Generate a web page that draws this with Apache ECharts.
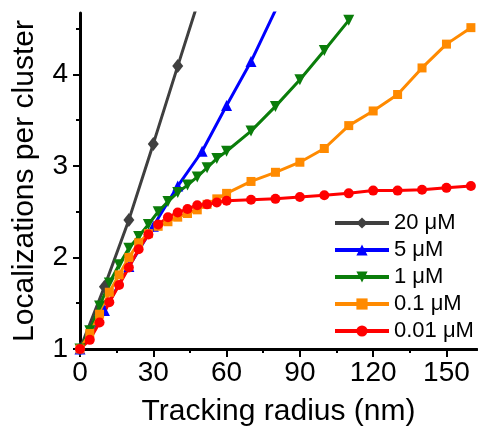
<!DOCTYPE html>
<html>
<head>
<meta charset="utf-8">
<script src="https://cdn.jsdelivr.net/npm/echarts@6/dist/echarts.min.js"></script>
<style>
    html, body { margin: 0; padding: 0; background: #fff; }
    #myChart { width: 478px; height: 432px; }
</style>
</head>
<body>
<div id="myChart"></div>
<script>
    // tracking radius (nm) used by each curve
    const radiusTen = [0, 10, 20, 30, 40, 50, 60, 70, 80];
    const radiusFine = [0, 4, 8, 12, 16, 20, 24, 28, 32, 36, 40, 44, 48, 52, 56, 60];
    const radiusCoarse = [70, 80, 90, 100, 110, 120, 130, 140, 150, 160];

    // localizations per cluster
    const loc20uM = [1, 1.68, 2.41, 3.24, 4.09, 4.93];
    const loc5uM = [1, 1.42, 1.9, 2.34, 2.78, 3.16, 3.66, 4.14, 4.70];
    const loc1uM = [1, 1.2, 1.47, 1.72, 1.92, 2.1, 2.23, 2.36, 2.5, 2.61, 2.71, 2.79, 2.88, 2.98, 3.08, 3.16,
        3.38, 3.65, 3.94, 4.26, 4.59];
    const loc01uM = [1, 1.17, 1.38, 1.62, 1.81, 2.0, 2.16, 2.26, 2.34, 2.39, 2.44, 2.48, 2.52, 2.58, 2.64, 2.70,
        2.83, 2.93, 3.04, 3.19, 3.44, 3.60, 3.78, 4.07, 4.33, 4.51];
    const loc001uM = [1.0, 1.10, 1.29, 1.51, 1.70, 1.89, 2.09, 2.25, 2.36, 2.44, 2.49, 2.53, 2.57, 2.58, 2.60, 2.62,
        2.63, 2.64, 2.66, 2.68, 2.70, 2.73, 2.73, 2.74, 2.76, 2.78];

    const names = ['20 μM', '5 μM', '1 μM', '0.1 μM', '0.01 μM'];
    const xMajor = [0, 30, 60, 90, 120, 150];
    const xMinor = [15, 45, 75, 105, 135];
    const yMajor = [1, 2, 3, 4];
    const yMinor = [1.5, 2.5, 3.5, 4.5];

    const radiusAll = radiusFine.concat(radiusCoarse);
    function pairs(xs, ys) {
        return ys.map((y, i) => [xs[i], y]);
    }

    const font = 'Liberation Sans, Arial, sans-serif';
    const chart = echarts.init(document.getElementById('myChart'));

    function lineSeries(name, color, symbol, size, data, rotate) {
        return {
            name: name,
            type: 'line',
            data: data,
            symbol: symbol,
            symbolSize: size,
            symbolRotate: rotate || 0,
            showAllSymbol: true,
            clip: true,
            lineStyle: { color: color, width: 3 },
            itemStyle: { color: color },
            emphasis: { disabled: true }
        };
    }

    const axisBlack = { lineStyle: { color: '#000', width: 3 } };

    const option = {
        animation: false,
        grid: { left: 80, right: 1, top: 13, bottom: 80 },
        legend: {
            data: names,
            orient: 'vertical',
            left: 333,
            top: 212,
            padding: 0,
            itemWidth: 54,
            itemHeight: 14,
            itemGap: 5,
            lineStyle: { width: 4 },
            textStyle: { fontSize: 22, lineHeight: 22, color: '#000', fontFamily: font }
        },
        xAxis: [
            {
                type: 'value',
                min: 0,
                max: 162.5,
                interval: 30,
                name: 'Tracking radius (nm)',
                nameLocation: 'middle',
                nameGap: 48,
                nameTextStyle: { fontSize: 30, color: '#000', fontFamily: font },
                axisLine: axisBlack,
                axisTick: { show: true, length: 8, customValues: xMajor, lineStyle: { color: '#000', width: 2 } },
                axisLabel: { customValues: xMajor, fontSize: 28, color: '#000', fontFamily: font, margin: 10 },
                splitLine: { show: false }
            },
            {
                type: 'value',
                position: 'bottom',
                min: 0,
                max: 162.5,
                axisLine: { show: false },
                axisTick: { show: true, length: 4, customValues: xMinor, lineStyle: { color: '#000', width: 2 } },
                axisLabel: { show: false },
                splitLine: { show: false }
            }
        ],
        yAxis: [
            {
                type: 'value',
                min: 1,
                max: 4.67,
                interval: 1,
                name: 'Localizations per cluster',
                nameLocation: 'middle',
                nameGap: 40,
                nameTextStyle: { fontSize: 30, color: '#000', fontFamily: font },
                axisLine: axisBlack,
                axisTick: { show: true, length: 7, customValues: yMajor, lineStyle: { color: '#000', width: 2 } },
                axisLabel: { customValues: yMajor, fontSize: 28, color: '#000', fontFamily: font, margin: 12 },
                splitLine: { show: false }
            },
            {
                type: 'value',
                position: 'left',
                min: 1,
                max: 4.67,
                axisLine: { show: false },
                axisTick: { show: true, length: 4, customValues: yMinor, lineStyle: { color: '#000', width: 2 } },
                axisLabel: { show: false },
                splitLine: { show: false }
            }
        ],
        series: [
            lineSeries(names[0], '#3f3f3f', 'diamond', [11, 14], pairs(radiusTen, loc20uM)),
            lineSeries(names[1], '#0000ff', 'triangle', 11, pairs(radiusTen, loc5uM)),
            lineSeries(names[2], '#0a7d0a', 'triangle', 11, pairs(radiusAll, loc1uM), 180),
            lineSeries(names[3], '#ff8a00', 'rect', 9, pairs(radiusAll, loc01uM)),
            lineSeries(names[4], '#ff0000', 'circle', 10, pairs(radiusAll, loc001uM))
        ]
    };
    chart.setOption(option);
</script>
</body>
</html>
